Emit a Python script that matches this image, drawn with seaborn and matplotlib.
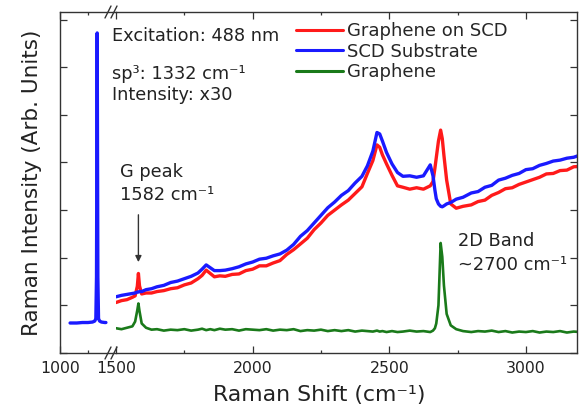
import matplotlib
matplotlib.use("Agg")
import matplotlib.pyplot as plt
from matplotlib.lines import Line2D
from matplotlib.ticker import MultipleLocator, FixedLocator
import pandas as pd
import seaborn as sns

# ---------------- data ----------------
laser_shift = [1090, 1150, 1200, 1250, 1290, 1310, 1320, 1326, 1332, 1338, 1344, 1354, 1370, 1400, 1410]
laser_blue = [0.63, 0.63, 0.64, 0.64, 0.65, 0.67, 0.72, 1.60, 6.72, 1.60, 0.72, 0.67, 0.65, 0.64, 0.64]

raman_shift = [
    1500, 1520, 1540, 1560, 1570, 1578, 1582, 1586, 1594, 1610,
    1630, 1650, 1675, 1700, 1725, 1750, 1775, 1800, 1815, 1830,
    1845, 1860, 1880, 1900, 1925, 1950, 1975, 2000, 2025, 2050,
    2075, 2100, 2125, 2150, 2175, 2200, 2225, 2250, 2275, 2300,
    2325, 2350, 2375, 2400, 2420, 2440, 2455, 2465, 2475, 2490,
    2510, 2530, 2550, 2575, 2600, 2625, 2650, 2660, 2667, 2672,
    2680, 2688, 2694, 2700, 2710, 2725, 2745, 2770, 2800, 2825,
    2850, 2875, 2900, 2925, 2950, 2975, 3000, 3025, 3050, 3075,
    3100, 3125, 3150, 3175, 3200]

graphene_on_scd = [
    1.06, 1.10, 1.12, 1.17, 1.20, 1.40, 1.67, 1.41, 1.24, 1.26,
    1.26, 1.29, 1.31, 1.35, 1.37, 1.43, 1.47, 1.56, 1.63, 1.74,
    1.67, 1.60, 1.62, 1.61, 1.65, 1.66, 1.73, 1.76, 1.83, 1.83,
    1.89, 1.94, 2.07, 2.17, 2.29, 2.41, 2.59, 2.73, 2.89, 3.00,
    3.11, 3.21, 3.35, 3.49, 3.77, 4.04, 4.37, 4.32, 4.16, 3.97,
    3.73, 3.51, 3.48, 3.44, 3.47, 3.44, 3.51, 3.60, 3.88, 4.10,
    4.45, 4.68, 4.50, 4.15, 3.63, 3.13, 3.04, 3.08, 3.11, 3.18,
    3.21, 3.31, 3.37, 3.45, 3.47, 3.54, 3.59, 3.64, 3.69, 3.76,
    3.77, 3.83, 3.84, 3.91, 3.92]

scd_substrate = [
    1.18, 1.21, 1.23, 1.25, 1.26, 1.28, 1.28, 1.29, 1.29, 1.33,
    1.35, 1.39, 1.42, 1.48, 1.51, 1.56, 1.61, 1.68, 1.76, 1.85,
    1.79, 1.73, 1.73, 1.74, 1.77, 1.81, 1.87, 1.91, 1.97, 1.99,
    2.04, 2.08, 2.16, 2.28, 2.45, 2.57, 2.73, 2.89, 3.05, 3.17,
    3.31, 3.41, 3.57, 3.71, 3.93, 4.24, 4.63, 4.60, 4.45, 4.21,
    3.97, 3.79, 3.71, 3.72, 3.69, 3.72, 3.95, 3.72, 3.42, 3.24,
    3.13, 3.08, 3.07, 3.09, 3.13, 3.16, 3.23, 3.27, 3.36, 3.39,
    3.48, 3.52, 3.63, 3.67, 3.73, 3.77, 3.85, 3.87, 3.94, 3.98,
    4.03, 4.05, 4.09, 4.11, 4.16]

graphene = [
    0.52, 0.50, 0.53, 0.56, 0.66, 0.90, 1.04, 0.88, 0.62, 0.53,
    0.49, 0.50, 0.47, 0.49, 0.48, 0.50, 0.47, 0.49, 0.51, 0.48,
    0.50, 0.48, 0.51, 0.49, 0.50, 0.47, 0.50, 0.49, 0.48, 0.50,
    0.47, 0.49, 0.48, 0.50, 0.46, 0.48, 0.47, 0.49, 0.46, 0.48,
    0.46, 0.48, 0.45, 0.47, 0.46, 0.45, 0.47, 0.45, 0.46, 0.44,
    0.46, 0.44, 0.45, 0.47, 0.45, 0.46, 0.44, 0.47, 0.52, 0.62,
    1.00, 2.31, 2.02, 1.42, 0.82, 0.58, 0.50, 0.46, 0.44, 0.46,
    0.45, 0.47, 0.44, 0.46, 0.43, 0.45, 0.44, 0.46, 0.43, 0.45,
    0.44, 0.46, 0.43, 0.45, 0.44]

series_names = ["Graphene on SCD", "SCD Substrate", "Graphene"]
g_peak = 1582
x_tick_labels_left = ["1000"]

# ---------------- style ----------------
sns.set_style("ticks")
plt.rcParams["font.family"] = ["DejaVu Sans"]
plt.rcParams["mathtext.fontset"] = "dejavusans"

RED, BLUE, GREEN = "#ff1a1a", "#1a1aff", "#1a7a1a"
TXT = "#222222"
colors = dict(zip(series_names, [RED, BLUE, GREEN]))
widths = dict(zip(series_names, [2.4, 2.4, 1.9]))

W, H = 586, 412
fig = plt.figure(figsize=(W / 100, H / 100), dpi=100)


def fx(px):
    return px / W


def fy(py):
    return 1 - py / H


L, M, R, T, B = 60, 116, 577, 12, 353
axL = fig.add_axes([fx(L), fy(B), (M - L) / W, (B - T) / H])
axR = fig.add_axes([fx(M), fy(B), (R - M) / W, (B - T) / H])

# ---------------- data frames ----------------
df_laser = pd.DataFrame({"shift": laser_shift, "intensity": laser_blue})
frames = []
for name, vals in zip(series_names, [graphene_on_scd, scd_substrate, graphene]):
    frames.append(pd.DataFrame({"shift": raman_shift, "intensity": vals, "series": name}))
df = pd.concat(frames, ignore_index=True)

sns.lineplot(data=df_laser, x="shift", y="intensity", color=BLUE, lw=2.4,
             ax=axL, estimator=None, sort=False)
for name in series_names:
    sns.lineplot(data=df[df["series"] == name], x="shift", y="intensity",
                 color=colors[name], lw=widths[name], ax=axR,
                 estimator=None, sort=False)

# ---------------- axes ----------------
YMAX = 7.16
for ax in (axL, axR):
    ax.set_ylim(0, YMAX)
    ax.set_xlabel("")
    ax.set_ylabel("")
    ax.yaxis.set_major_locator(MultipleLocator(1))
    for s in ax.spines.values():
        s.set_linewidth(1.0)
        s.set_color("#333333")
    ax.tick_params(axis="x", which="major", direction="in", top=True, bottom=True,
                   length=5, width=0.9, labelsize=11.3, pad=5.5, colors="#333333",
                   labelcolor=TXT)
    ax.tick_params(axis="x", which="minor", direction="in", top=True, bottom=True,
                   length=2.5, width=0.9, colors="#333333")
    ax.set_facecolor("none")

axL.set_xlim(1000, 1500)
axL.xaxis.set_major_locator(FixedLocator([1000]))
axL.set_xticklabels(x_tick_labels_left)
axL.xaxis.set_minor_locator(FixedLocator([1250]))
axL.spines["right"].set_visible(False)
axL.tick_params(axis="y", left=True, right=False, labelleft=False,
                direction="in", length=5, width=0.9, colors="#333333")

axR.set_xlim(1500, 3187)
axR.xaxis.set_major_locator(MultipleLocator(500))
axR.xaxis.set_minor_locator(MultipleLocator(250))
axR.spines["left"].set_visible(False)
axR.tick_params(axis="y", left=False, right=True, labelleft=False, labelright=False,
                direction="in", length=5, width=0.9, colors="#333333")

# break marks
for yy in (T, B):
    for cx in (108, 114):
        fig.add_artist(Line2D([fx(cx - 3), fx(cx + 3)], [fy(yy + 6), fy(yy - 6)],
                              transform=fig.transFigure, color="#333333", lw=1.0))

# ---------------- labels ----------------
fig.text(fx(319), fy(401), "Raman Shift (cm\u207b\u00b9)", ha="center", va="baseline",
         fontsize=15.8, color=TXT)
fig.text(fx(32), fy(183), "Raman Intensity (Arb. Units)", ha="center", va="center",
         rotation=90, fontsize=15.5, color=TXT)

fs = 12.8
fig.text(fx(112), fy(41), "Excitation: 488 nm", fontsize=fs, va="baseline", color=TXT)
fig.text(fx(112), fy(79), "sp\u00b3: 1332 cm\u207b\u00b9", fontsize=fs, va="baseline", color=TXT)
fig.text(fx(112), fy(100), "Intensity: x30", fontsize=fs, va="baseline", color=TXT)
fig.text(fx(120), fy(177), "G peak", fontsize=fs, va="baseline", color=TXT)
fig.text(fx(120), fy(200), "1582 cm\u207b\u00b9", fontsize=fs, va="baseline", color=TXT)
fig.text(fx(458), fy(246), "2D Band", fontsize=fs, va="baseline", color=TXT)
fig.text(fx(458), fy(270), "~2700 cm\u207b\u00b9", fontsize=fs, va="baseline", color=TXT)

axR.annotate("", xy=(g_peak, 1.85), xytext=(g_peak, 2.96),
             arrowprops=dict(arrowstyle="-|>", color="#333333", lw=1.0, mutation_scale=9))

handles = [Line2D([], [], color=colors[n], lw=2.2) for n in series_names]
fig.legend(handles, series_names, loc="upper left", bbox_to_anchor=(fx(296), fy(22)),
           frameon=False, fontsize=13.0, handlelength=2.6, handletextpad=0.25,
           labelspacing=0.15, borderpad=0, borderaxespad=0)

fig.savefig("out.png", dpi=100)
